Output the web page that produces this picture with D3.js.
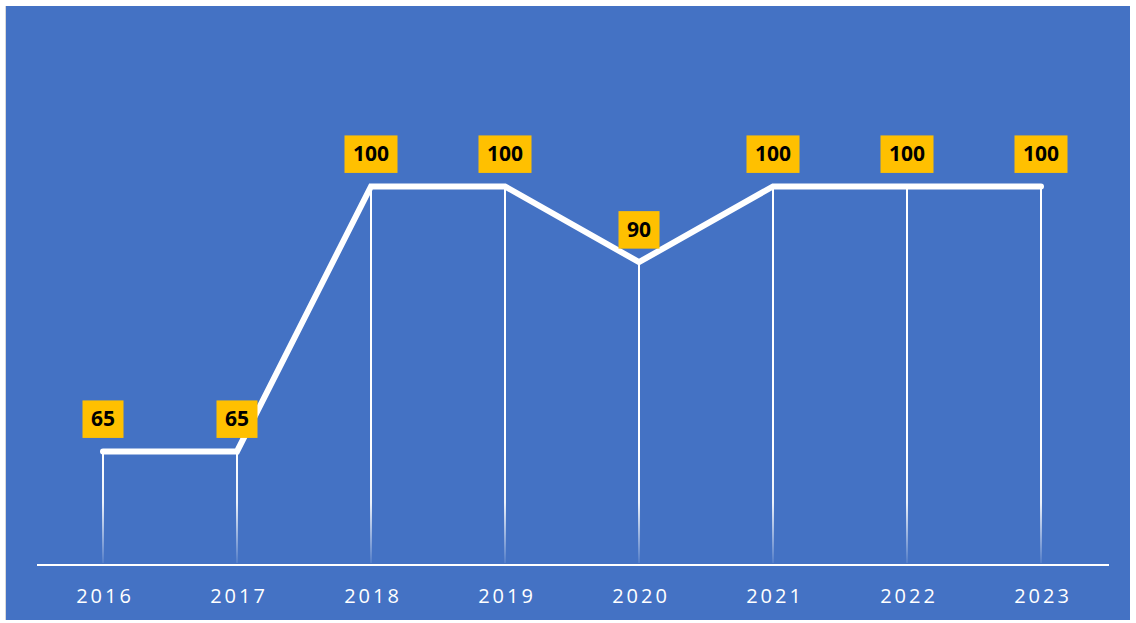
<!DOCTYPE html>
<html><head><meta charset="utf-8">
<script src="https://cdn.jsdelivr.net/npm/d3@7"></script>
<style>body{margin:0;background:#fff}svg{display:block}</style>
</head><body>
<script>
const years = ["2016","2017","2018","2019","2020","2021","2022","2023"];
const values = [65,65,100,100,90,100,100,100];

const W=1136,H=623;
const svg=d3.select("body").append("svg").attr("width",W).attr("height",H);
svg.append("rect").attr("x",5).attr("y",6).attr("width",1125).attr("height",614).attr("fill","#4472C4");
svg.append("line").attr("x1",5.5).attr("x2",5.5).attr("y1",6).attr("y2",620).attr("stroke","#d9d9d9").attr("stroke-width",1);

const x=d3.scalePoint().domain(years).range([103,1041]);
const y=d3.scaleLinear().domain([50,110]).range([565,110.7]);
const data=years.map((d,i)=>({year:d,value:values[i]}));

const defs=svg.append("defs");
const g=defs.append("linearGradient").attr("id","fade").attr("gradientUnits","userSpaceOnUse")
  .attr("x1",0).attr("x2",0).attr("y1",y(65)).attr("y2",565);
g.append("stop").attr("offset","0%").attr("stop-color","#fff").attr("stop-opacity",1);
g.append("stop").attr("offset","45%").attr("stop-color","#fff").attr("stop-opacity",0.9);
g.append("stop").attr("offset","100%").attr("stop-color","#fff").attr("stop-opacity",0.05);

svg.selectAll(".drop").data(data).enter().append("line")
  .attr("x1",d=>x(d.year)).attr("x2",d=>x(d.year)+0.01)
  .attr("y1",d=>y(d.value)).attr("y2",563)
  .attr("stroke","url(#fade)").attr("stroke-width",2);

const ax=svg.append("g").attr("transform","translate(0,565)")
  .call(d3.axisBottom(x).tickSize(0).tickPadding(24));
ax.select(".domain").remove();
svg.append("line").attr("x1",37).attr("x2",1109).attr("y1",565).attr("y2",565).attr("stroke","#fff").attr("stroke-width",2);
ax.selectAll("text").attr("fill","#fff").attr("font-family","'Open Sans', sans-serif")
  .attr("font-size",20).attr("letter-spacing","3px").attr("dx","1.5px");

svg.append("path").datum(data)
  .attr("d",d3.line().x(d=>x(d.year)).y(d=>y(d.value)))
  .attr("fill","none").attr("stroke","#fff").attr("stroke-width",6)
  .attr("stroke-linecap","round").attr("stroke-linejoin","miter");

const lab=svg.selectAll(".lab").data(data).enter().append("g")
  .attr("transform",d=>`translate(${x(d.year)},${y(d.value)-32.5})`);
lab.append("rect").attr("x",d=>String(d.value).length>2?-26.5:-20.5)
  .attr("width",d=>String(d.value).length>2?53:41).attr("y",-18.5).attr("height",37.5).attr("fill","#FFC000");
lab.append("text").text(d=>d.value).attr("text-anchor","middle").attr("dy","0.36em")
  .attr("font-family","'Open Sans', sans-serif").attr("font-weight","bold").attr("font-size",21).attr("fill","#000");
</script>
</body></html>
